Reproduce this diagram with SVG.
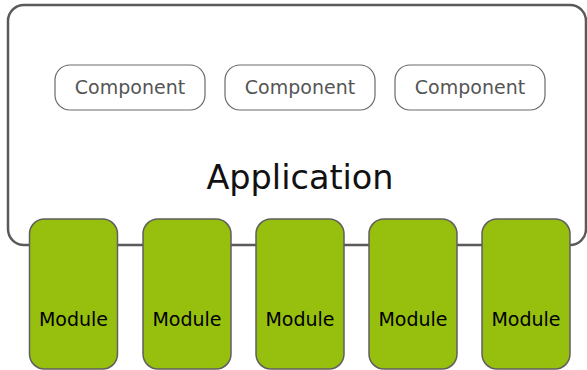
<svg xmlns="http://www.w3.org/2000/svg" width="587" height="370" viewBox="0 0 587 370">
  <style>
    .app { fill: #ffffff; stroke: #5a5a5a; stroke-width: 2.5; }
    .comp { fill: #ffffff; stroke: #6a6a6a; stroke-width: 1.2; }
    .comp-label { font-family: "DejaVu Sans", sans-serif; font-size: 19px; fill: #555555; text-anchor: middle; }
    .mod { fill: #97bf0d; stroke: #5f5f5f; stroke-width: 1.5; }
    .mod-label { font-family: "DejaVu Sans", sans-serif; font-size: 19px; fill: #000000; text-anchor: middle; }
    .app-label { font-family: "DejaVu Sans", sans-serif; font-size: 33.5px; fill: #111111; text-anchor: middle; }
  </style>

  <g id="application">
    <rect class="app" x="8" y="5" width="578" height="240" rx="16" ry="16"/>
    <text class="app-label" x="300" y="189">Application</text>
  </g>

  <g id="component-1">
    <rect class="comp" x="55" y="65" width="150" height="45" rx="15" ry="15"/>
    <text class="comp-label" x="130" y="94">Component</text>
  </g>
  <g id="component-2">
    <rect class="comp" x="225" y="65" width="150" height="45" rx="15" ry="15"/>
    <text class="comp-label" x="300" y="94">Component</text>
  </g>
  <g id="component-3">
    <rect class="comp" x="395" y="65" width="150" height="45" rx="15" ry="15"/>
    <text class="comp-label" x="470" y="94">Component</text>
  </g>

  <g id="module-1">
    <rect class="mod" x="29.5" y="219" width="88" height="150" rx="15" ry="15"/>
    <text class="mod-label" x="73.5" y="326">Module</text>
  </g>
  <g id="module-2">
    <rect class="mod" x="143" y="219" width="88" height="150" rx="15" ry="15"/>
    <text class="mod-label" x="187" y="326">Module</text>
  </g>
  <g id="module-3">
    <rect class="mod" x="256" y="219" width="88" height="150" rx="15" ry="15"/>
    <text class="mod-label" x="300" y="326">Module</text>
  </g>
  <g id="module-4">
    <rect class="mod" x="369" y="219" width="88" height="150" rx="15" ry="15"/>
    <text class="mod-label" x="413" y="326">Module</text>
  </g>
  <g id="module-5">
    <rect class="mod" x="482" y="219" width="88" height="150" rx="15" ry="15"/>
    <text class="mod-label" x="526" y="326">Module</text>
  </g>

  <g id="connectors"/>
</svg>
